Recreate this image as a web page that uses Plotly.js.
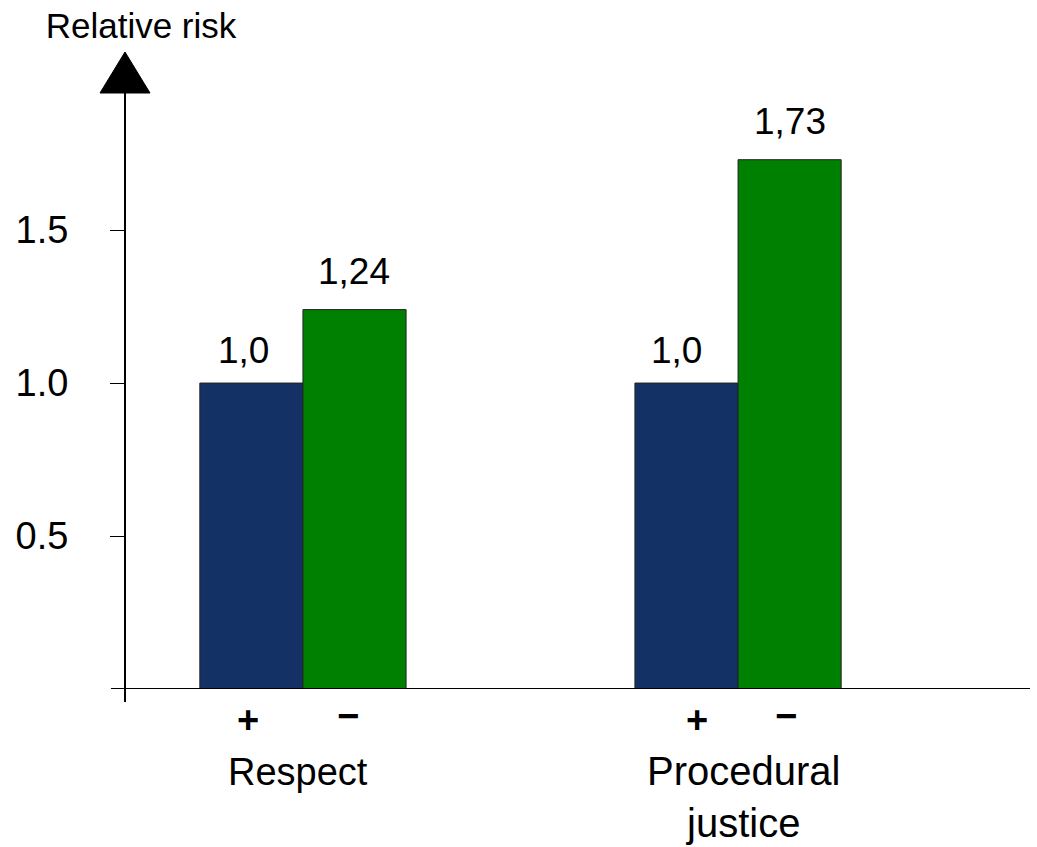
<!DOCTYPE html>
<html>
<head>
<meta charset="utf-8">
<script src="https://cdn.plot.ly/plotly-3.0.1.min.js"></script>
<style>
  html, body { margin: 0; padding: 0; background: #ffffff; }
  #chart { width: 1037px; height: 847px; }
</style>
</head>
<body>
<div id="chart"></div>
<script>
// Relative risk by perceived respect and procedural justice
const categories = ["Respect", "Procedural justice"];
const categoryLabels = ["Respect", "Procedural<br>justice"];
const plusValues = [1.0, 1.0];    // "+" (high) group
const minusValues = [1.24, 1.73]; // "−" (low) group
const yTickVals = [0.5, 1.0, 1.5];
const yTickText = ["0.5", "1.0", "1.5"];

const FONT = "Liberation Sans, Arial, Helvetica, sans-serif";
const BLUE = "#133165";
const GREEN = "#008000";

function fmt(v) {
  const s = Number.isInteger(v) ? v.toFixed(1) : String(v);
  return s.replace(".", ",");
}

const traces = [
  {
    type: "bar", name: "+", x: categories, y: plusValues,
    marker: { color: BLUE, line: { color: "#222222", width: 1 } },
    hoverinfo: "skip"
  },
  {
    type: "bar", name: "−", x: categories, y: minusValues,
    marker: { color: GREEN, line: { color: "#222222", width: 1 } },
    hoverinfo: "skip"
  }
];

const annotations = [];
// value labels above the bars
const barShift = 51.5;
const plusLabelNudge = [-8, -10];
categories.forEach((c, i) => {
  annotations.push({
    x: c, y: plusValues[i], xref: "x", yref: "y",
    text: fmt(plusValues[i]), showarrow: false,
    xanchor: "center", yanchor: "bottom",
    xshift: -barShift + plusLabelNudge[i], yshift: 10,
    font: { family: FONT, size: 37, color: "#000" }
  });
  annotations.push({
    x: c, y: minusValues[i], xref: "x", yref: "y",
    text: fmt(minusValues[i]), showarrow: false,
    xanchor: "center", yanchor: "bottom",
    xshift: barShift, yshift: 16,
    font: { family: FONT, size: 37, color: "#000" }
  });
});

// "+" / "−" markers under each bar and the group names
const plusShift = [-55, -41];
const minusShift = [45, 48];
const nameShift = [-5, 5];
const nameSize = [38, 40];
const nameYShift = [-60, -58];
categories.forEach((c, i) => {
  annotations.push({
    x: c, y: 0, xref: "x", yref: "paper",
    text: "<b>+</b>", showarrow: false,
    xanchor: "center", yanchor: "middle",
    xshift: plusShift[i], yshift: -31,
    font: { family: FONT, size: 38, color: "#000" }
  });
  annotations.push({
    x: c, y: 0, xref: "x", yref: "paper",
    text: "<b>−</b>", showarrow: false,
    xanchor: "center", yanchor: "middle",
    xshift: minusShift[i], yshift: -27,
    font: { family: FONT, size: 38, color: "#000" }
  });
  annotations.push({
    x: c, y: 0, xref: "x", yref: "paper",
    text: categoryLabels[i], showarrow: false,
    xanchor: "center", yanchor: "top",
    xshift: nameShift[i], yshift: nameYShift[i],
    font: { family: FONT, size: nameSize[i], color: "#000" }
  });
});

const shapes = [
  // vertical axis, running slightly below the baseline
  { type: "line", xref: "paper", yref: "paper", x0: 0, x1: 0, y0: -0.022, y1: 1,
    line: { color: "#000", width: 2 } },
  // horizontal axis, running slightly left of the vertical axis
  { type: "line", xref: "paper", yref: "y", x0: -0.0155, x1: 1, y0: 0, y1: 0,
    line: { color: "#000", width: 2 } },
  // arrow head on top of the vertical axis
  { type: "path", xref: "paper", yref: "paper", xsizemode: "pixel", ysizemode: "pixel",
    xanchor: 0, yanchor: 1, path: "M -25 0 L 25 0 L 0 41 Z",
    fillcolor: "#000", line: { color: "#000", width: 1 } }
];

const layout = {
  width: 1037, height: 847,
  margin: { l: 125, r: 7, t: 93, b: 158, pad: 0 },
  paper_bgcolor: "#ffffff", plot_bgcolor: "#ffffff",
  showlegend: false,
  barmode: "group", bargap: 0.526, bargroupgap: 0,
  title: {
    text: "Relative risk",
    font: { family: FONT, size: 35, color: "#000" },
    xref: "container", yref: "container",
    x: 141 / 1037, xanchor: "center",
    y: 1 - 13 / 847, yanchor: "top"
  },
  xaxis: {
    type: "category", range: [-0.409, 1.671],
    showline: false, showgrid: false, zeroline: false,
    showticklabels: false, ticks: "", fixedrange: true
  },
  yaxis: {
    range: [0, 1.948],
    showline: false, showgrid: false, zeroline: false,
    tickmode: "array", tickvals: yTickVals, ticktext: yTickText,
    ticks: "outside", ticklen: 14, tickwidth: 1, tickcolor: "#000",
    ticklabelstandoff: 34,
    tickfont: { family: FONT, size: 38, color: "#000" },
    fixedrange: true
  },
  annotations: annotations,
  shapes: shapes
};

Plotly.newPlot("chart", traces, layout, { displayModeBar: false, staticPlot: true });
</script>
</body>
</html>
